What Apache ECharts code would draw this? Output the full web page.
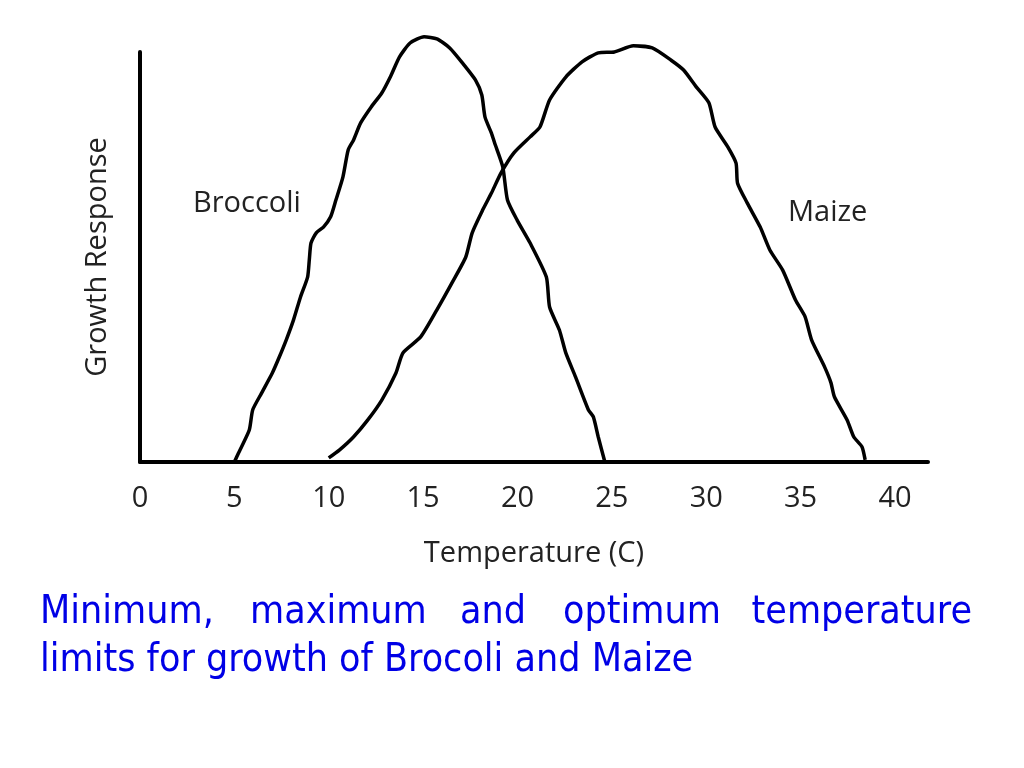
<!DOCTYPE html>
<html>
<head>
<meta charset="utf-8">
<script src="https://cdn.jsdelivr.net/npm/echarts@6/dist/echarts.min.js"></script>
<style>
  html, body { margin: 0; padding: 0; background: #fff; }
  #chart { width: 1024px; height: 768px; }
</style>
</head>
<body>
<div id="chart"></div>
<script>
// temperature ticks shown under the axis
const tempTicks = [0, 5, 10, 15, 20, 25, 30, 35, 40];

// broccoli curve: temperature (C) / growth response (arbitrary units, 0-100)
const broccoliTemp = [5.0, 5.22, 5.79, 5.97, 6.44, 7.01, 7.38, 7.75, 8.13, 8.50, 8.88, 8.97, 9.06, 9.34, 9.72,
  10.10, 10.38, 10.75, 11.03, 11.31, 11.69, 12.25, 12.81, 13.28, 13.75, 14.31, 15.05, 15.73, 16.41, 17.09,
  17.77, 18.11, 18.28, 18.62, 18.79, 19.22, 19.47, 19.98, 20.67, 21.53, 21.70, 22.22, 22.56, 23.08, 23.76,
  24.02, 24.28, 24.63];
const broccoliGrowth = [0, 2.2, 7.8, 12.7, 16.8, 21.7, 25.6, 29.8, 34.6, 40.2, 45.1, 49.3, 53.4, 55.9, 57.3,
  59.8, 63.9, 69.5, 76.1, 78.5, 82.7, 86.6, 90.0, 94.1, 98.8, 102.2, 103.7, 103.2, 101.0, 97.3,
  93.2, 89.5, 84.1, 80.2, 77.8, 72.0, 63.9, 59.0, 53.4, 45.1, 37.8, 32.2, 26.6, 20.7, 12.7,
  11.0, 6.1, 0];

// maize curve
const maizeTemp = [10.0, 10.56, 11.31, 12.06, 12.81, 13.56, 13.93, 14.87, 15.73, 16.58, 17.26, 17.60, 18.16,
  18.62, 19.13, 19.81, 20.67, 21.19, 21.70, 22.56, 23.42, 24.28, 25.13, 26.14, 27.14, 28.14, 28.80, 29.47,
  30.14, 30.47, 31.15, 31.58, 31.66, 32.17, 32.86, 33.37, 34.05, 34.73, 35.24, 35.58, 36.27, 36.61, 36.79,
  37.47, 37.82, 38.25, 38.42];
const maizeGrowth = [1.0, 2.9, 6.1, 10.2, 15.1, 21.7, 26.6, 30.5, 37.1, 44.1, 50.0, 55.9, 61.5,
  65.6, 70.5, 75.4, 79.3, 81.7, 88.3, 93.9, 97.6, 99.8, 100.0, 101.5, 101.0, 98.0, 95.6, 91.5,
  87.6, 81.7, 76.8, 72.9, 68.0, 63.2, 57.3, 51.7, 46.8, 39.5, 35.4, 29.8, 23.2, 19.3, 15.9,
  10.2, 6.1, 3.7, 0.5];

// caption words (first line is justified)
const captionLine1 = ['Minimum,', 'maximum', 'and', 'optimum', 'temperature'];
const captionLine2 = 'limits for growth of Brocoli and Maize';

function zip(xs, ys) {
  return xs.map((x, i) => [x, ys[i]]);
}

const labelFont = '"Open Sans", sans-serif';
const captionFont = '"DejaVu Sans Condensed", "DejaVu Sans", sans-serif';
const captionStyle = { fill: '#0000e6', font: '39px ' + captionFont, verticalAlign: 'middle' };

// word anchors for the justified first line
const wordX = [40, 250, 460, 563, 972];
const graphics = captionLine1.map((w, i) => ({
  type: 'text',
  x: wordX[i],
  y: 613,
  style: Object.assign({ text: w, align: i === captionLine1.length - 1 ? 'right' : 'left' }, captionStyle)
}));
graphics.push({
  type: 'text', x: 40, y: 661,
  style: Object.assign({ text: captionLine2, align: 'left' }, captionStyle)
});
graphics.push({
  type: 'text', left: 193, top: 189,
  style: { text: 'Broccoli', fill: '#222', font: '29px ' + labelFont }
});
graphics.push({
  type: 'text', left: 788, top: 198,
  style: { text: 'Maize', fill: '#222', font: '29px ' + labelFont }
});

const option = {
  backgroundColor: '#fff',
  animation: false,
  grid: { left: 140, top: 52, width: 788, height: 410, containLabel: false },
  xAxis: {
    type: 'value',
    min: 0,
    max: 41.75,
    interval: 5,
    name: 'Temperature (C)',
    nameLocation: 'middle',
    nameGap: 77,
    nameTextStyle: { color: '#222', fontFamily: labelFont, fontSize: 29 },
    axisLine: { lineStyle: { color: '#000', width: 4 } },
    axisTick: { show: false },
    splitLine: { show: false },
    axisLabel: {
      color: '#222',
      fontFamily: labelFont,
      fontSize: 29,
      margin: 22,
      formatter: v => (tempTicks.indexOf(v) >= 0 ? String(v) : '')
    }
  },
  yAxis: {
    type: 'value',
    min: 0,
    max: 100,
    name: 'Growth Response',
    nameLocation: 'middle',
    nameRotate: 90,
    nameGap: 28,
    nameTextStyle: { color: '#222', fontFamily: labelFont, fontSize: 29 },
    axisLine: { show: true, onZero: false, lineStyle: { color: '#000', width: 4 } },
    axisTick: { show: false },
    axisLabel: { show: false },
    splitLine: { show: false }
  },
  series: [
    {
      name: 'Broccoli',
      type: 'line',
      data: zip(broccoliTemp, broccoliGrowth),
      showSymbol: false,
      smooth: 0.2,
      clip: false,
      lineStyle: { color: '#000', width: 3.5 }
    },
    {
      name: 'Maize',
      type: 'line',
      data: zip(maizeTemp, maizeGrowth),
      showSymbol: false,
      smooth: 0.2,
      clip: false,
      lineStyle: { color: '#000', width: 3.5 }
    }
  ],
  graphic: graphics
};

const myChart = echarts.init(document.getElementById('chart'));
myChart.setOption(option);
</script>
</body>
</html>
